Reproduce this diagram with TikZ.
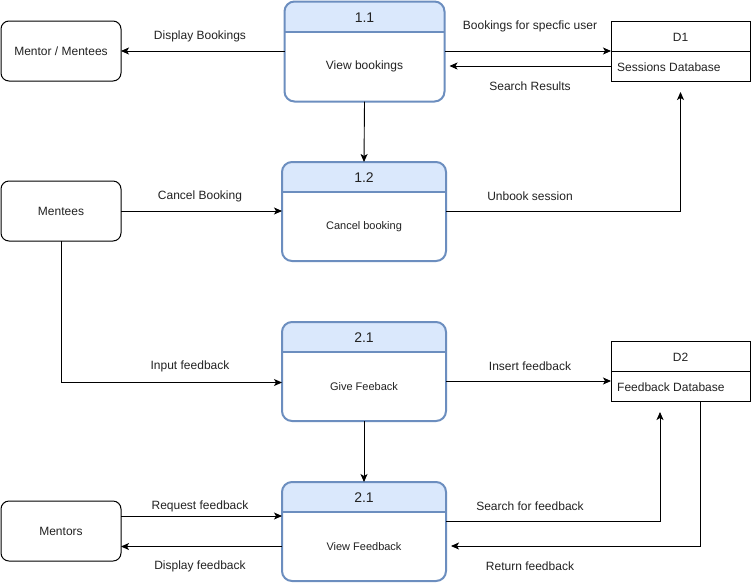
\documentclass[tikz,border=0pt]{standalone}
\usepackage{fontspec}
\setmainfont{Liberation Sans}
\usetikzlibrary{arrows.meta,calc}
\definecolor{pfill}{HTML}{DAE8FC}
\definecolor{pline}{HTML}{6C8EBF}
\definecolor{txt}{HTML}{222222}
\newcommand\procbox[8]{%
  \fill[pfill] ({#2-#4/2},{#3-#5/2+30}) [rounded corners=10pt] -- ({#2-#4/2},{#3-#5/2}) -- ({#2+#4/2},{#3-#5/2}) [sharp corners] -- ({#2+#4/2},{#3-#5/2+30}) -- cycle;
  \node[proc, minimum width=#4pt, minimum height=#5pt] (#1) at (#2,#3) {};
  \draw[pline, line width=2pt] ({#2-#4/2},{#3-#5/2+30}) -- ({#2+#4/2},{#3-#5/2+30});
  \node[ptitle] (#1t) at (#2,{#3-#5/2+16}) {#6};
  \node[pbody] (#1b) at (#2,{#3-#5/2+65}) {\fontsize{#8}{#8}\selectfont #7};
}
\begin{document}
\begin{tikzpicture}[x=1pt,y=-1pt,
  every node/.style={text=txt},
  proc/.style={draw=pline, line width=2pt, rounded corners=10pt, outer sep=0pt, inner sep=0pt},
  ptitle/.style={font=\fontsize{14}{14}\selectfont, inner sep=0pt},
  pbody/.style={inner sep=0pt},
  ent/.style={draw, line width=1pt, rounded corners=8pt, minimum width=120pt, minimum height=60pt, inner sep=0pt, outer sep=0pt, font=\fontsize{12}{12}\selectfont},
  store/.style={draw, line width=1pt, minimum width=139pt, minimum height=60pt, inner sep=0pt, outer sep=0pt},
  lbl/.style={font=\fontsize{12}{12}\selectfont, inner sep=0pt},
  arr/.style={draw, line width=0.9pt, -{Stealth[length=8pt,width=7pt,inset=2pt]}}
]
\useasboundingbox[fill=white] (0,0) rectangle (751,582);

% processes
\procbox{p11}{364.5}{51.5}{160}{100}{1.1}{View bookings}{12}
\procbox{p12}{364}{211.5}{164}{99}{1.2}{Cancel booking}{11}
\procbox{p21}{364}{371.5}{164}{99}{2.1}{Give Feeback}{11}
\procbox{p22}{364}{531.5}{164}{99}{2.1}{View Feedback}{11}

% entities
\node[ent] (mm) at (61,51) {Mentor / Mentees};
\node[ent] (me) at (61,211) {Mentees};
\node[ent] (mr) at (61,531) {Mentors};

% data stores
\node[store] (d1) at (680.5,51) {};
\draw[line width=1pt] (d1.west) -- (d1.east);
\node[lbl] (d1t) at (680.5,37) {D1};
\node[lbl, anchor=west] (d1n) at (617,67) {Sessions Database};
\node[store] (d2) at (680.5,371) {};
\draw[line width=1pt] (d2.west) -- (d2.east);
\node[lbl] (d2t) at (680.5,357) {D2};
\node[lbl, anchor=west] (d2n) at (617,387) {Feedback Database};

% connectors
\draw[arr] (p11.west |- mm.east) -- (mm.east);
\node[lbl] (l1) at (200,36.5) {Display Bookings};

\draw[arr] (p11.east |- d1.west) -- (d1.west);
\node[lbl] (l2) at (530,26) {Bookings for specfic user};

\draw[arr] ($(d1.west)+(0,15)$) -- ($(p11.east)+(5,14.5)$);
\node[lbl] (l3) at (530,86.5) {Search Results};

\draw[arr] (p11.south) -- (p12.north);

\draw[arr] (me.east) -- (p12.west |- me.east);
\node[lbl] (l4) at (200,196.5) {Cancel Booking};

\draw[arr] (p12.east |- 0,211) -| ($(d1.south)+(0,11)$);
\node[lbl] (l5) at (530,196.5) {Unbook session};

\draw[arr] (me.south) |- ($(p21.west)+(0,11)$);
\node[lbl] (l6) at (190,366.5) {Input feedback};

\draw[arr] ($(p21.east)+(0,9.5)$) -- (d2.west |- 0,381);
\node[lbl] (l7) at (530,366.5) {Insert feedback};

\draw[arr] (p21.south) -- (p22.north);

\draw[arr] (mr.east |- 0,516) -- (p22.west |- 0,516);
\node[lbl] (l8) at (200,506.5) {Request feedback};

\draw[arr] (p22.west |- 0,546.5) -- (mr.east |- 0,546.5);
\node[lbl] (l9) at (200,566.5) {Display feedback};

\draw[arr] (p22.east |- 0,521) -| ($(d2.south)+(-20.5,11)$);
\node[lbl] (l10) at (530,506.5) {Search for feedback};

\draw[arr] ($(d2.south)+(19.5,0)$) |- ($(p22.east)+(5,14.5)$);
\node[lbl] (l11) at (530,566.5) {Return feedback};
\end{tikzpicture}
\end{document}
